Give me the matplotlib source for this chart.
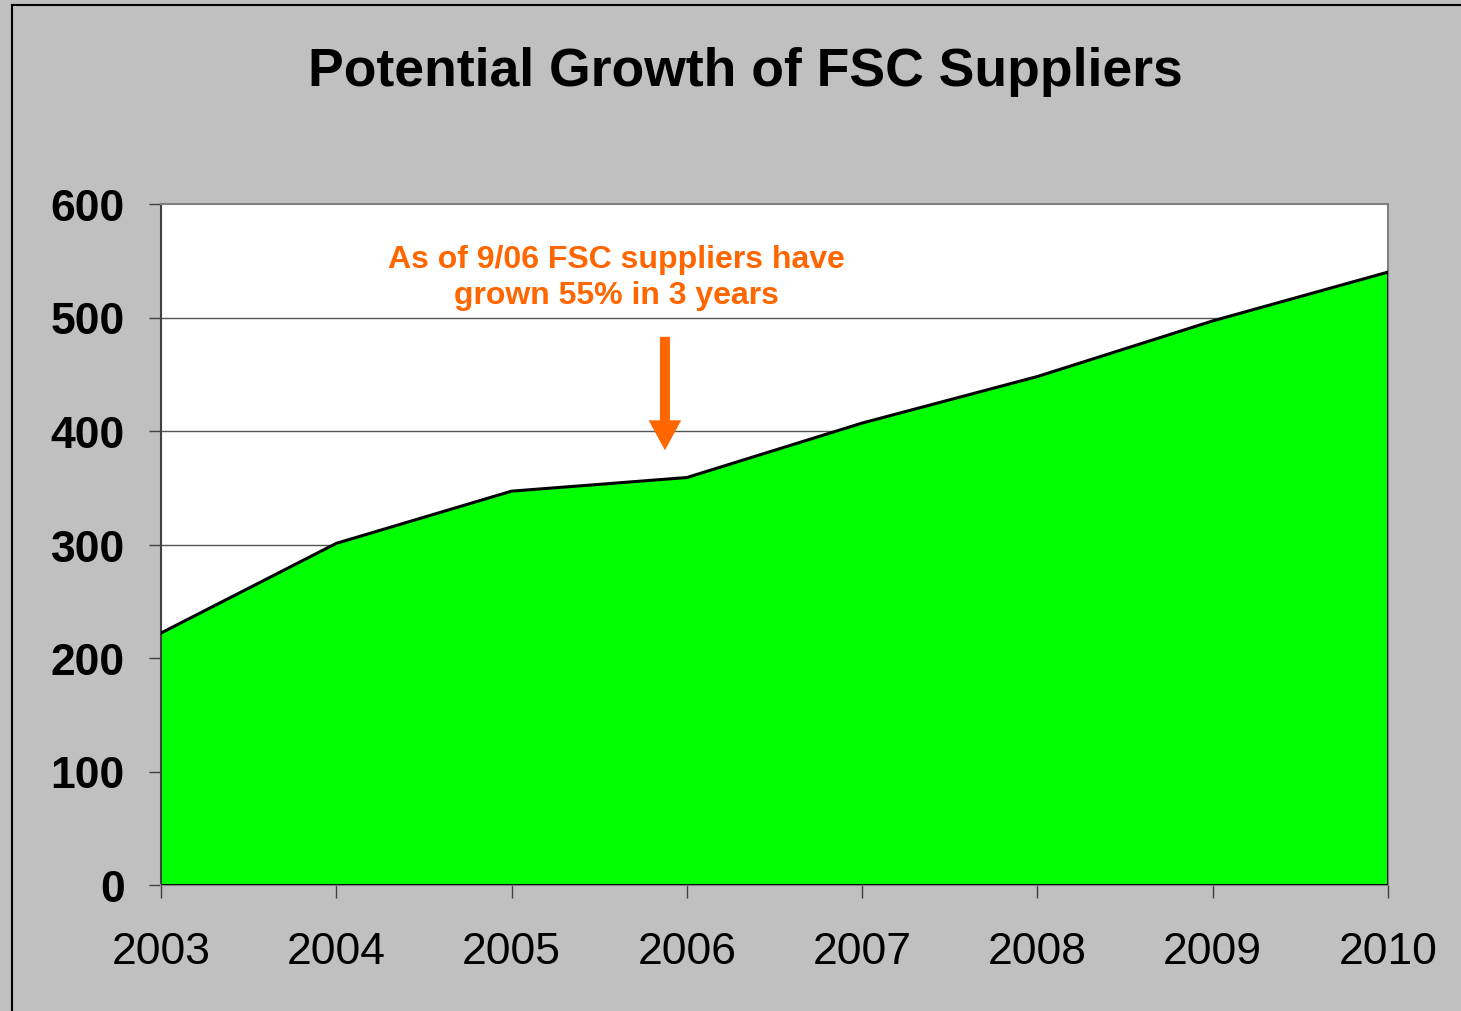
import matplotlib.pyplot as plt
from matplotlib.lines import Line2D

plt.rcParams['font.family'] = ['Liberation Sans', 'DejaVu Sans']

years = [2003, 2004, 2005, 2006, 2007, 2008, 2009, 2010]
suppliers = [222, 301, 347, 359, 407, 448, 497, 540]
y_ticks = [0, 100, 200, 300, 400, 500, 600]
title = "Potential Growth of FSC Suppliers"
note = "As of 9/06 FSC suppliers have\ngrown 55% in 3 years"

fig = plt.figure(figsize=(14.61, 10.12), dpi=100, facecolor='#C0C0C0')
ax = fig.add_axes([161 / 1461, 1 - 886 / 1012, 1227 / 1461, 681 / 1012])
ax.set_facecolor('white')

# grid below the area
for v in y_ticks[1:-1]:
    ax.axhline(v, color='#555555', lw=1.0, zorder=1)

ax.fill_between(years, suppliers, 0, color='#00FF00', zorder=2, lw=0)
ax.plot(years, suppliers, color='black', lw=2.2, zorder=3)
ax.plot([years[-1], years[-1]], [0, suppliers[-1]], color='black', lw=2, zorder=3)
ax.axhline(0, color='black', lw=2, zorder=3)

ax.set_xlim(years[0], years[-1])
ax.set_ylim(0, 600)
ax.set_xticks(years)
ax.set_xticklabels([str(y) for y in years])
ax.set_yticks(y_ticks)
ax.set_yticklabels([str(v) for v in y_ticks], fontweight='bold')

for s in ax.spines.values():
    s.set_color('#808080')
    s.set_linewidth(1.5)
ax.spines['left'].set_color('#404040')

ax.tick_params(axis='y', direction='out', length=9, width=1, color='#404040',
               labelsize=32, pad=17)
ax.tick_params(axis='x', direction='out', length=9, width=1, color='#404040',
               labelsize=32, pad=24)

fig.text(745 / 1461, 1 - 72 / 1012, title, ha='center', va='center',
         fontsize=38.5, fontweight='bold')

ax.text(2005.60, 536, note, ha='center', va='center', fontsize=23,
        fontweight='bold', color='#FF6600', linespacing=1.25, zorder=5)
ax.annotate('', xy=(2005.875, 383), xytext=(2005.875, 483),
            arrowprops=dict(arrowstyle='simple,head_width=1.3,tail_width=0.4,head_length=1.2',
                            color='#FF6600', lw=0, shrinkA=0, shrinkB=0,
                            mutation_scale=18), zorder=5)

# figure frame (left and top edges)
fig.add_artist(Line2D([12 / 1461, 12 / 1461], [0, 1 - 6 / 1012], color='black', lw=1.5))
fig.add_artist(Line2D([12 / 1461, 1], [1 - 6 / 1012, 1 - 6 / 1012], color='black', lw=1.5))

fig.savefig('out.png', dpi=100, facecolor=fig.get_facecolor())
